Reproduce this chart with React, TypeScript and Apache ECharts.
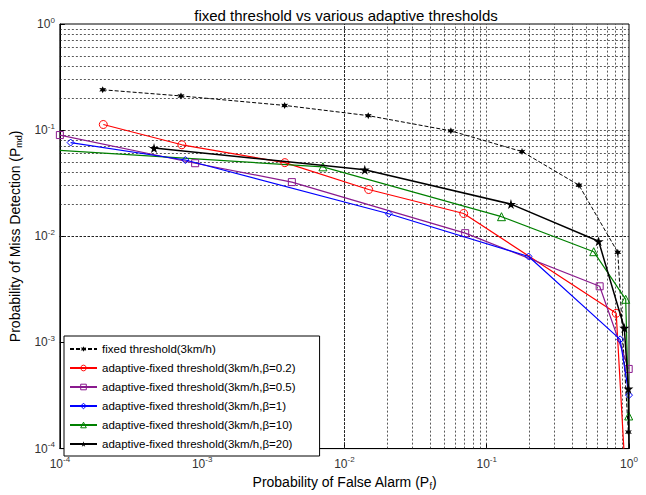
import React, { useEffect, useRef } from "react";
import * as echarts from "echarts";

// ---- data ----
const fixedX = [2.0e-4, 7.1e-4, 3.8e-3, 1.47e-2, 5.6e-2, 0.177, 0.445, 0.834, 0.99];
const fixedY = [0.24, 0.21, 0.171, 0.137, 0.0985, 0.0628, 0.0303, 0.00706, 1.43e-4];

const b02X = [2.02e-4, 7.2e-4, 3.81e-3, 1.48e-2, 6.89e-2, 0.813, 0.92];
const b02Y = [0.113, 0.0728, 0.0494, 0.0276, 0.0164, 1.88e-3, 1.0e-4];

const b05X = [1.0e-4, 8.93e-4, 4.27e-3, 7.06e-2, 0.622, 0.995];
const b05Y = [0.0899, 0.0488, 0.0324, 0.0107, 3.38e-3, 5.63e-4];

const b1X = [1.19e-4, 7.62e-4, 2.05e-2, 0.197, 0.866, 1.0];
const b1Y = [0.0764, 0.0523, 0.0163, 6.45e-3, 1.07e-3, 3.19e-4];

const b10X = [1.0e-4, 7.06e-3, 0.127, 0.565, 0.948, 0.995];
const b10Y = [0.0645, 0.0451, 0.0153, 7.16e-3, 2.55e-3, 2.03e-4];

const b20X = [4.59e-4, 1.39e-2, 0.148, 0.612, 0.927, 0.99, 1.0];
const b20Y = [0.0678, 0.0424, 0.0201, 8.97e-3, 1.37e-3, 3.67e-4, 1.0e-4];

const seriesNames = [
  "fixed threshold(3km/h)",
  "adaptive-fixed threshold(3km/h,β=0.2)",
  "adaptive-fixed threshold(3km/h,β=0.5)",
  "adaptive-fixed threshold(3km/h,β=1)",
  "adaptive-fixed threshold(3km/h,β=10)",
  "adaptive-fixed threshold(3km/h,β=20)",
];
const seriesColors = ["#000000", "#ff0000", "#8a1a8e", "#0000ff", "#008000", "#000000"];

const decadeExps = [-4, -3, -2, -1];
const gridMults = [1, 2, 3, 4, 5, 6, 7, 8, 9];

const STAR5 =
  "path://M50,0 L61,35 L98,35 L68,57 L79,91 L50,70 L21,91 L32,57 L2,35 L39,35 Z";
const STAR6 =
  "path://M50,0 L62,29 L93,25 L74,50 L93,75 L62,71 L50,100 L38,71 L7,75 L26,50 L7,25 L38,29 Z";

function pts(xs: number[], ys: number[], noSymbol: number[] = []) {
  return xs.map((x, i) =>
    noSymbol.indexOf(i) >= 0
      ? { value: [x, ys[i]], symbol: "none" }
      : { value: [x, ys[i]] }
  );
}

export default function App() {
  const ref = useRef<HTMLDivElement>(null);
  useEffect(() => {
    if (!ref.current) return;
    const chart = echarts.init(ref.current, undefined, { renderer: "svg" });

    const gridVals: number[] = [];
    decadeExps.forEach((e) => gridMults.forEach((m) => gridVals.push(m * Math.pow(10, e))));
    const innerGrid = gridVals.filter((v) => v > 1.5e-4);

    const gridLine = { color: "#222", width: 1, type: [2, 2] as any, opacity: 0.75 };

    const supLabel = (v: number) => {
      const e = Math.round(Math.log10(v));
      return `{b|10}{s|${e}}`;
    };
    const rich = {
      b: { fontSize: 12, color: "#333", fontFamily: "Liberation Sans" },
      s: { fontSize: 8, color: "#333", fontFamily: "Liberation Sans", padding: [0, 0, 8, 0] },
    };

    const font = "Liberation Sans";
    const hollow = (c: string) => ({
      color: "rgba(255,255,255,0)",
      borderColor: c,
      borderWidth: 1,
    });

    const legendData = seriesNames.map((n, i) =>
      i === 0 || i === 5
        ? { name: n }
        : { name: n, itemStyle: hollow(seriesColors[i]) }
    );

    const option: any = {
      animation: false,
      backgroundColor: "#fff",
      textStyle: { fontFamily: font },
      title: {
        text: "fixed threshold vs various adaptive thresholds",
        left: 341,
        top: 3,
        textAlign: "center",
        textStyle: { fontSize: 15, fontWeight: "normal", color: "#000", fontFamily: font },
      },
      grid: {
        left: 53,
        right: 17,
        top: 24,
        bottom: 34,
        show: true,
        borderColor: "#000",
        borderWidth: 1,
        backgroundColor: "#fff",
      },
      legend: {
        orient: "vertical",
        left: 64,
        top: 336,
        itemWidth: 27,
        itemHeight: 7,
        itemGap: 5,
        padding: [6, 24, 5, 5],
        backgroundColor: "#fff",
        borderColor: "#000",
        borderWidth: 1,
        textStyle: { fontSize: 11.5, color: "#000", fontFamily: font, lineHeight: 14 },
        data: legendData,
      },
      xAxis: {
        type: "log",
        logBase: 10,
        min: 1e-4,
        max: 1,
        name: "{t|Probability of False Alarm (P}{sub|f}{t|)}",
        nameLocation: "middle",
        nameGap: 22,
        nameTextStyle: {
          rich: {
            t: { fontSize: 14, color: "#000", fontFamily: font },
            sub: { fontSize: 9, color: "#000", fontFamily: font, padding: [8, 0, 0, 0] },
          },
        },
        axisLine: { show: true, lineStyle: { color: "#000" } },
        axisTick: { show: true, inside: true, length: 5, lineStyle: { color: "#000" } },
        axisLabel: { formatter: supLabel, rich, margin: 7 },
        splitLine: { show: false },
      },
      yAxis: {
        type: "log",
        logBase: 10,
        min: 1e-4,
        max: 1,
        name: "{t|Probability of Miss Detection (P}{sub|md}{t|)}",
        nameLocation: "middle",
        nameGap: 36,
        nameTextStyle: {
          rich: {
            t: { fontSize: 14, color: "#000", fontFamily: font },
            sub: { fontSize: 9, color: "#000", fontFamily: font, padding: [8, 0, 0, 0] },
          },
        },
        axisLine: { show: true, lineStyle: { color: "#000" } },
        axisTick: { show: true, inside: true, length: 5, lineStyle: { color: "#000" } },
        axisLabel: { formatter: supLabel, rich, margin: 5 },
        splitLine: { show: false },
      },
      series: [
        {
          name: seriesNames[0],
          type: "line",
          data: pts(fixedX, fixedY),
          symbol: STAR6,
          symbolSize: 7,
          itemStyle: { color: seriesColors[0] },
          lineStyle: { color: seriesColors[0], width: 1, type: [4, 2] },
          z: 3,
          markLine: {
            silent: true,
            symbol: ["none", "none"],
            label: { show: false },
            lineStyle: gridLine,
            animation: false,
            data: [
              ...innerGrid.map((v) => ({ xAxis: v })),
              ...innerGrid.map((v) => ({ yAxis: v })),
            ],
            z: 1,
          },
        },
        {
          name: seriesNames[1],
          type: "line",
          data: pts(b02X, b02Y, [6]),
          symbol: "circle",
          symbolSize: 8,
          itemStyle: hollow(seriesColors[1]),
          lineStyle: { color: seriesColors[1], width: 1.2 },
          z: 4,
        },
        {
          name: seriesNames[2],
          type: "line",
          data: pts(b05X, b05Y),
          symbol: "rect",
          symbolSize: 7,
          itemStyle: hollow(seriesColors[2]),
          lineStyle: { color: seriesColors[2], width: 1.2 },
          z: 4,
        },
        {
          name: seriesNames[3],
          type: "line",
          data: pts(b1X, b1Y),
          symbol: "diamond",
          symbolSize: 7,
          itemStyle: hollow(seriesColors[3]),
          lineStyle: { color: seriesColors[3], width: 1.2 },
          z: 5,
        },
        {
          name: seriesNames[4],
          type: "line",
          data: pts(b10X, b10Y, [0]),
          symbol: "triangle",
          symbolSize: 8,
          itemStyle: hollow(seriesColors[4]),
          lineStyle: { color: seriesColors[4], width: 1.2 },
          z: 4,
        },
        {
          name: seriesNames[5],
          type: "line",
          data: pts(b20X, b20Y, [6]),
          symbol: STAR5,
          symbolSize: 10,
          itemStyle: { color: seriesColors[5] },
          lineStyle: { color: seriesColors[5], width: 1.5 },
          z: 6,
        },
      ],
    };
    chart.setOption(option);
    return () => chart.dispose();
  }, []);
  return (
    <div
      ref={ref}
      style={{ position: "fixed", left: 0, top: 0, width: 646, height: 495, background: "#fff" }}
    />
  );
}
